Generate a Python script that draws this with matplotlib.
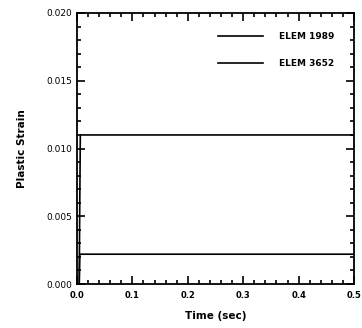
import matplotlib.pyplot as plt
from matplotlib.ticker import MultipleLocator

# time history of plastic strain for the two elements
time_1989 = [0.0, 0.004, 0.005, 0.006, 0.5]
strain_1989 = [0.0, 0.0, 0.006, 0.011, 0.011]
time_3652 = [0.0, 0.004, 0.005, 0.5]
strain_3652 = [0.0, 0.0, 0.0022, 0.0022]

fig = plt.figure(figsize=(3.62, 3.28), dpi=100)
ax = fig.add_axes([77 / 362, 1 - 284 / 328, 277 / 362, 271 / 328])

ax.plot(time_1989, strain_1989, color='black', lw=1.2, label='ELEM 1989')
ax.plot(time_3652, strain_3652, color='black', lw=1.2, label='ELEM 3652')

ax.set_xlim(0, 0.5)
ax.set_ylim(0, 0.02)
ax.xaxis.set_major_locator(MultipleLocator(0.1))
ax.xaxis.set_minor_locator(MultipleLocator(0.02))
ax.yaxis.set_major_locator(MultipleLocator(0.005))
ax.yaxis.set_minor_locator(MultipleLocator(0.001))
ax.xaxis.set_major_formatter(plt.FuncFormatter(lambda v, p: f'{v:.1f}'))
ax.yaxis.set_major_formatter(plt.FuncFormatter(lambda v, p: f'{v:.3f}'))

ax.tick_params(which='both', direction='in', top=True, right=True, width=1.2)
ax.tick_params(which='major', length=6, labelsize=6.5)
ax.tick_params(axis='x', which='major', labelsize=6, pad=5)
ax.tick_params(which='minor', length=3)
for lab in ax.get_xticklabels():
    lab.set_fontweight('bold')
for s in ax.spines.values():
    s.set_linewidth(1.3)

ax.set_xlabel('Time (sec)', fontsize=7.5, fontweight='bold', labelpad=8)
ax.set_ylabel('Plastic Strain', fontsize=7.5, fontweight='semibold', labelpad=14)

leg = ax.legend(loc='upper right', frameon=False, fontsize=6.5, handlelength=5,
                handletextpad=1.8, labelspacing=2.0, bbox_to_anchor=(0.96, 0.96))
for t in leg.get_texts():
    t.set_fontweight('bold')

fig.savefig('out.png', dpi=100)
